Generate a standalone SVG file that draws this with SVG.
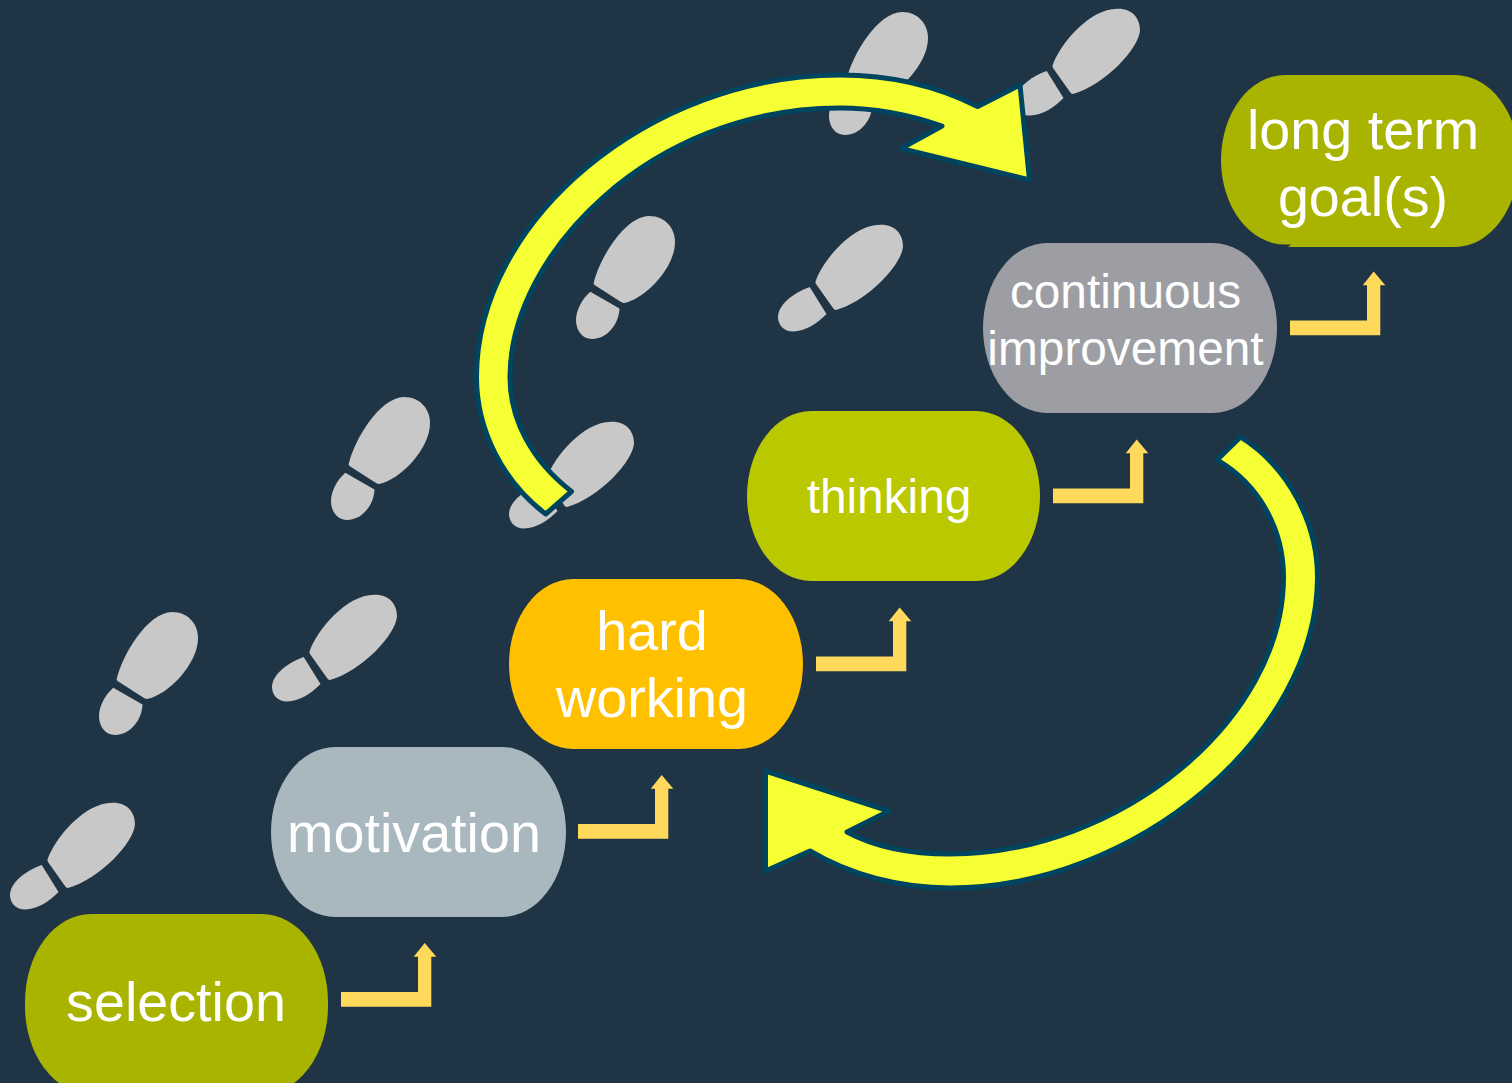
<svg xmlns="http://www.w3.org/2000/svg" width="1512" height="1083" viewBox="0 0 1512 1083">
<style>
.t{font-family:"Liberation Sans",Arial,sans-serif;fill:#fff;text-anchor:middle}
.f56{font-size:55.7px}
.f48{font-size:47.8px}
.big{fill:#f5ff33;stroke:#004560;stroke-width:5;stroke-linejoin:round}
.elbow{fill:#ffd95c}
.foot{fill:#c8c8c8}
</style>
<defs>
<g id="footA" class="foot">
<path d="M47.7 859C55 838 85 802 113 802.7C128 802.7 135 813 135 824C134.500 842 100 879 68 888Q66 888 65 886L48 862Q47 860 47.7 859Z"/>
<path d="M41.7 865L58.500 892C50 901 37 909.5 25 909.5C15 909.5 10 902 10 895C10 883 25 871 41.700 865Z"/>
</g>
<g id="footB" class="foot">
<path d="M116.7 679C122 655 148 612 172 612C189 612 198 625 198 638C198 664 168 695 147 699Q146 699 144 698L117.5 681Q116.5 680 116.7 679Z"/>
<path d="M113.3 687.7L142.5 704.5C142 720 130 735 115 735C105 735 99 726 99 716C99 706 105 695 113.3 687.7Z"/>
</g>
<path id="elbow" class="elbow" d="M341 992H418V956.7H413.7L424.7 943L436.3 956.7H431.3V1006.7H341Z"/>
</defs>
<rect width="1512" height="1083" fill="#1f3445"/>
<g id="footprints">
<use href="#footA"/>
<use href="#footA" transform="translate(262,-208)"/>
<use href="#footA" transform="translate(499,-381)"/>
<use href="#footA" transform="translate(768,-578)"/>
<use href="#footA" transform="translate(1005,-794)"/>
<use href="#footB"/>
<use href="#footB" transform="translate(232,-215)"/>
<use href="#footB" transform="translate(477,-396)"/>
<use href="#footB" transform="translate(730,-600)"/>
</g>
<g id="selection">
<rect x="25" y="914" width="303" height="180" rx="66" ry="88" fill="#a9b400"/>
<text class="t f56" x="176" y="1021">selection</text>
</g>
<g id="motivation">
<rect x="271" y="747" width="295" height="170" rx="64" ry="85" fill="#a9b8bf"/>
<text class="t f56" x="414" y="852">motivation</text>
</g>
<g id="hard-working">
<rect x="509" y="579" width="294" height="170" rx="64" ry="85" fill="#ffc000"/>
<text class="t f56" x="652" y="650">hard</text>
<text class="t f56" x="652" y="717">working</text>
</g>
<g id="thinking">
<rect x="747" y="411" width="293" height="170" rx="64" ry="85" fill="#bac800"/>
<text class="t f48" x="889" y="513">thinking</text>
</g>
<g id="continuous-improvement">
<rect x="983" y="243" width="294" height="170" rx="64" ry="85" fill="#9c9ea3"/>
<text class="t f48" x="1125.5" y="308">continuous</text>
<text class="t f48" x="1125.5" y="365">improvement</text>
</g>
<g id="long-term-goals">
<path d="M1285 75H1455A64 85 0 0 1 1519 160A64 87 0 0 1 1455 247H1288L1291 244.5H1285A64 84.5 0 0 1 1221 160A64 85 0 0 1 1285 75Z" fill="#a9b400"/>
<text class="t f56" x="1363" y="149">long term</text>
<text class="t f56" x="1363" y="216">goal(s)</text>
</g>
<g id="connectors">
<use href="#elbow"/>
<use href="#elbow" transform="translate(237,-168)"/>
<use href="#elbow" transform="translate(475,-335.5)"/>
<use href="#elbow" transform="translate(712,-503.5)"/>
<use href="#elbow" transform="translate(949,-671.5)"/>
<path class="big" d="M545.7 514C503 482 476.5 430 476.5 377C476.5 220 650 75 840 75C890 75 935 85 977.7 106.5L1020 85L1029.5 180L901 148.5L942 126C910 115 875 108 840 108C650 108 510 255 510 377C510 420 532 461 571.5 491.5Z"/>
<path class="big" d="M1240.5 437C1290 468 1317.5 525 1317.5 577C1317.5 735 1135 888 950 888C900 888 850 875 810 851L765.5 871V771L889 811L847 832C875 847 910 854 950 854C1120 854 1283.5 720 1283.5 577C1283.5 530 1260 485 1217 460Z"/>
</g>
</svg>
